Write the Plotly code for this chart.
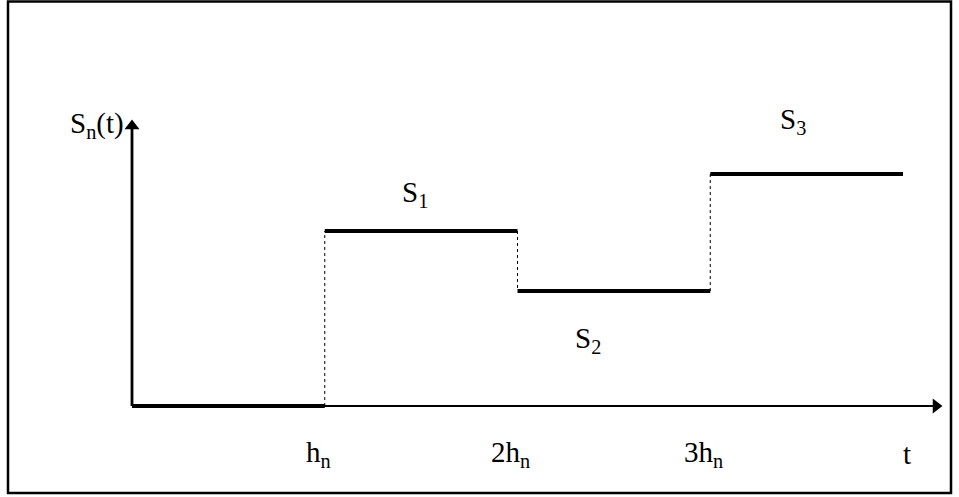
import plotly.graph_objects as go

# Data
t_breaks = [0, 1, 2, 3, 4]            # multiples of h_n
levels = [0, 1.75, 1.15, 2.32]         # S_n(t) on each interval
level_names = ["", "S<sub>1</sub>", "S<sub>2</sub>", "S<sub>3</sub>"]
tick_labels = ["h<sub>n</sub>", "2h<sub>n</sub>", "3h<sub>n</sub>", "t"]

W, H = 959, 497
x0px, xscale = 132, 192.75
y0px, yscale = 406, 100.0
xr = [-x0px / xscale, (W - x0px) / xscale]
yr = [(y0px - H) / yscale, y0px / yscale]

fig = go.Figure()

# axes lines
x_end = (936 - x0px) / xscale
y_end = (y0px - 126) / yscale
fig.add_trace(go.Scatter(x=[0, x_end], y=[0, 0], mode="lines",
                         line=dict(color="black", width=2.2), hoverinfo="skip"))
fig.add_trace(go.Scatter(x=[0, 0], y=[0, y_end], mode="lines",
                         line=dict(color="black", width=2.8), hoverinfo="skip"))
# arrow heads
fig.add_trace(go.Scatter(x=[x_end], y=[0], mode="markers",
                         marker=dict(symbol="triangle-right", size=13, color="black"),
                         hoverinfo="skip"))
fig.add_trace(go.Scatter(x=[0], y=[y_end], mode="markers",
                         marker=dict(symbol="triangle-up", size=13, color="black"),
                         hoverinfo="skip"))

# horizontal thick segments
hx, hy = [], []
for i, lv in enumerate(levels):
    hx += [t_breaks[i], t_breaks[i + 1], None]
    hy += [lv, lv, None]
fig.add_trace(go.Scatter(x=hx, y=hy, mode="lines",
                         line=dict(color="black", width=4), hoverinfo="skip"))

# vertical dotted jumps
vx, vy = [], []
for i in range(1, len(levels)):
    vx += [t_breaks[i], t_breaks[i], None]
    vy += [levels[i - 1], levels[i], None]
fig.add_trace(go.Scatter(x=vx, y=vy, mode="lines",
                         line=dict(color="black", width=1, dash="dot"), hoverinfo="skip"))

font = dict(family="Liberation Serif, Times New Roman, serif", size=29, color="black")

annotations = []
# tick labels
offsets = [-0.035, -0.035, -0.035, 0.02]
for tv, lab, off in zip(t_breaks[1:], tick_labels, offsets):
    annotations.append(dict(x=tv + off, y=-0.48, xref="x", yref="y", text=lab,
                            showarrow=False, font=font))

# level labels
lab_pos = [None, (1.47, 2.12), (2.365, 0.665), (3.43, 2.85)]
for name, pos in zip(level_names, lab_pos):
    if pos:
        annotations.append(dict(x=pos[0], y=pos[1], xref="x", yref="y", text=name,
                                showarrow=False, font=font))

# y-axis title
annotations.append(dict(x=-0.03, y=2.81, xref="x", yref="y", text="S<sub>n</sub>(t)",
                        showarrow=False, font=font, xanchor="right"))

fig.update_layout(
    width=W, height=H,
    margin=dict(l=0, r=0, t=0, b=0),
    paper_bgcolor="white", plot_bgcolor="white",
    showlegend=False,
    xaxis=dict(range=xr, visible=False, fixedrange=True),
    yaxis=dict(range=yr, visible=False, fixedrange=True),
    annotations=annotations,
    shapes=[dict(type="rect", xref="paper", yref="paper",
                 x0=8 / W, x1=951 / W, y0=1 - 493 / H, y1=1 - 1.5 / H,
                 line=dict(color="black", width=2.5))],
)

fig.write_html("out.html", config={"displayModeBar": False},
               post_script="document.body.style.margin='0';document.body.style.overflow='hidden';")
